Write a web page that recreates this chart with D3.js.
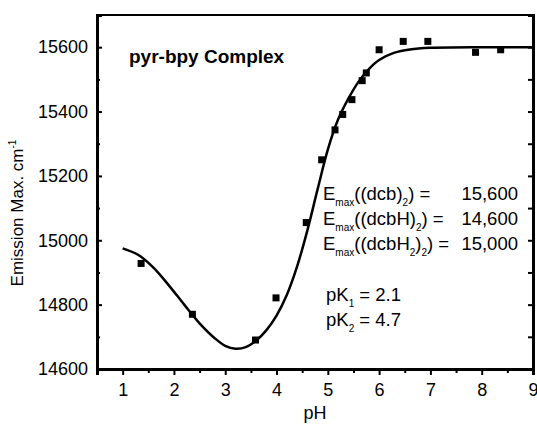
<!DOCTYPE html>
<html>
<head>
<meta charset="utf-8">
<script src="https://cdn.jsdelivr.net/npm/d3@7"></script>
<style>
  body { margin: 0; background: #fff; }
  text { font-family: "Liberation Sans", Arial, sans-serif; fill: #000; }
</style>
</head>
<body>
<script>
// measured points (pH, emission max)
const phPoints = [1.36, 2.36, 3.59, 3.99, 4.58, 4.88, 5.14, 5.29, 5.47, 5.67, 5.75, 6.0, 6.47, 6.95, 7.88, 8.37];
const emPoints = [14928, 14770, 14690, 14821, 15055, 15250, 15343, 15391, 15437, 15496, 15520, 15592, 15618, 15618, 15584, 15592];

// fitted curve
const fitPh = [1.0, 1.3, 1.6, 1.9, 2.2, 2.5, 2.8, 3.0, 3.2, 3.4, 3.6, 3.8, 4.0, 4.2, 4.4, 4.6, 4.8, 5.0, 5.2, 5.4, 5.6, 5.8, 6.0, 6.3, 6.6, 7.0, 8.0, 9.0];
const fitEm = [14975, 14955, 14915, 14860, 14800, 14742, 14695, 14672, 14663, 14668, 14688, 14720, 14766, 14830, 14918, 15030, 15158, 15282, 15375, 15440, 15493, 15532, 15560, 15583, 15593, 15598, 15600, 15600];

// ticks
const xMajor = [1, 2, 3, 4, 5, 6, 7, 8, 9];
const xMinor = [1.5, 2.5, 3.5, 4.5, 5.5, 6.5, 7.5, 8.5];
const yMajor = [14600, 14800, 15000, 15200, 15400, 15600];
const yMinor = [14700, 14900, 15100, 15300, 15500];

// annotation values
const annValues = ["15,600", "14,600", "15,000"];

const W = 537, H = 429;
const margin = {top: 15, right: 4, bottom: 60, left: 97};

let svg = d3.select("body").append("svg")
  .attr("width", W).attr("height", H);

let x = d3.scaleLinear().domain([0.5, 9]).range([margin.left, W - margin.right]);
let y = d3.scaleLinear().domain([14600, 15700]).range([H - margin.bottom, margin.top]);

// frame (top / right thinner)
svg.append("rect")
  .attr("x", x(0.5)).attr("y", y(15700))
  .attr("width", x(9) - x(0.5)).attr("height", y(14600) - y(15700))
  .attr("fill", "none").attr("stroke", "#000").attr("stroke-width", 2);

// bottom axis
svg.append("g")
  .attr("transform", `translate(0,${y(14600)})`)
  .call(d3.axisBottom(x).tickValues(xMajor).tickSize(6).tickPadding(8).tickFormat(d3.format("d")));
svg.append("g")
  .attr("transform", `translate(0,${y(14600)})`)
  .call(d3.axisBottom(x).tickValues(xMinor).tickSize(4).tickFormat(""));

// left axis, ticks pointing in
svg.append("g")
  .attr("transform", `translate(${x(0.5)},0)`)
  .call(d3.axisLeft(y).tickValues(yMajor).tickSize(-5).tickPadding(9).tickFormat(d3.format("d")));
svg.append("g")
  .attr("transform", `translate(${x(0.5)},0)`)
  .call(d3.axisLeft(y).tickValues(yMinor).tickSize(-3).tickFormat(""));

// right axis, ticks pointing in, no labels
svg.append("g")
  .attr("transform", `translate(${x(9)},0)`)
  .call(d3.axisRight(y).tickValues(yMajor.concat(yMinor)).tickSize(-5).tickFormat(""));

svg.selectAll(".domain").attr("stroke-width", 3);
svg.selectAll(".tick line").attr("stroke-width", 2);
svg.selectAll(".tick text").style("font-size", "18px").attr("font-family", "Liberation Sans, Arial, sans-serif");

// fitted line
let line = d3.line()
  .x((d, i) => x(fitPh[i]))
  .y((d, i) => y(fitEm[i]))
  .curve(d3.curveCatmullRom.alpha(0.5));
svg.append("path")
  .attr("d", line(fitPh))
  .attr("fill", "none").attr("stroke", "#000").attr("stroke-width", 2.5);

// data squares
svg.append("g").selectAll("rect")
  .data(phPoints)
  .enter().append("rect")
  .attr("x", (d) => x(d) - 3.5)
  .attr("y", (d, i) => y(emPoints[i]) - 3.5)
  .attr("width", 7).attr("height", 7)
  .attr("fill", "#000");

// title
svg.append("text")
  .attr("x", 129).attr("y", 63)
  .style("font-size", "19px").style("font-weight", "bold")
  .text("pyr-bpy Complex");

// axis labels
svg.append("text")
  .attr("x", (x(0.5) + x(9)) / 2).attr("y", 419)
  .attr("text-anchor", "middle").style("font-size", "18px")
  .text("pH");

let yl = svg.append("text")
  .attr("transform", "translate(23,213) rotate(-90)")
  .attr("text-anchor", "middle").style("font-size", "17px");
yl.append("tspan").text("Emission Max. cm");
yl.append("tspan").attr("dy", -7).style("font-size", "10px").text("-1");

// annotation block
function sub(t, s) { t.append("tspan").attr("dy", 6).style("font-size", "10px").text(s); }
function back(t, s) { t.append("tspan").attr("dy", -6).text(s); }

const annY = [200, 225, 250];

let a1 = svg.append("text").attr("x", 323).attr("y", annY[0]).style("font-size", "18.5px");
a1.append("tspan").text("E"); sub(a1, "max"); back(a1, "((dcb)"); sub(a1, "2"); back(a1, ") =");

let a2 = svg.append("text").attr("x", 323).attr("y", annY[1]).style("font-size", "18.5px");
a2.append("tspan").text("E"); sub(a2, "max"); back(a2, "((dcbH)"); sub(a2, "2"); back(a2, ") =");

let a3 = svg.append("text").attr("x", 323).attr("y", annY[2]).style("font-size", "18.5px");
a3.append("tspan").text("E"); sub(a3, "max"); back(a3, "((dcbH"); sub(a3, "2"); back(a3, ")"); sub(a3, "2"); back(a3, ") =");

svg.selectAll(".annv").data(annValues).enter().append("text")
  .attr("class", "annv")
  .attr("x", 518).attr("y", (d, i) => annY[i])
  .attr("text-anchor", "end").style("font-size", "18.5px")
  .text((d) => d);

let p1 = svg.append("text").attr("x", 326).attr("y", 301).style("font-size", "18.5px");
p1.append("tspan").text("pK"); sub(p1, "1"); back(p1, " = 2.1");
let p2 = svg.append("text").attr("x", 326).attr("y", 326).style("font-size", "18.5px");
p2.append("tspan").text("pK"); sub(p2, "2"); back(p2, " = 4.7");
</script>
</body>
</html>
